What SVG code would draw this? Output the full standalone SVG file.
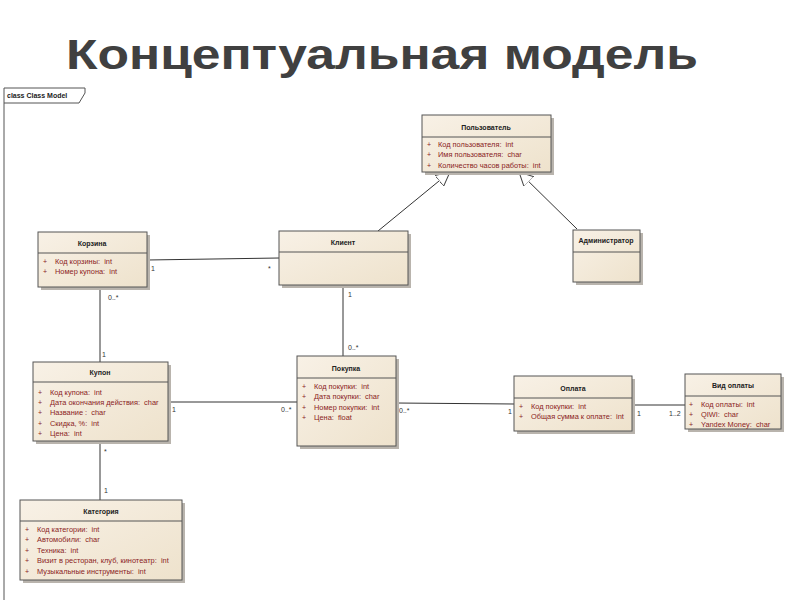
<svg xmlns="http://www.w3.org/2000/svg" width="800" height="600" viewBox="0 0 800 600">
<defs>
<linearGradient id="g" x1="0" y1="0" x2="1" y2="1">
<stop offset="0" stop-color="#f8f1e6"/>
<stop offset="1" stop-color="#eee2cc"/>
</linearGradient>
<marker id="tri" viewBox="0 0 14 14" refX="14" refY="7" markerWidth="14" markerHeight="14" markerUnits="userSpaceOnUse" orient="auto">
<path d="M0,0 L14,7 L0,14 Z" fill="#fff" stroke="#444" stroke-width="1"/>
</marker>
<style>
.box{fill:url(#g);stroke:#555;stroke-width:1}
.sh{fill:#b9b4ad}
.sep{stroke:#555;stroke-width:1}
.t{font-family:"Liberation Sans",Arial,sans-serif;font-size:7px;font-weight:bold;fill:#222;text-anchor:middle}
.a{font-family:"Liberation Sans",Arial,sans-serif;font-size:7.4px;fill:#8a2323;white-space:pre}
.p{font-family:"Liberation Sans",Arial,sans-serif;font-size:7px;fill:#8a2323}
.c{stroke:#333;stroke-width:1;fill:none}
.m{font-family:"Liberation Sans",Arial,sans-serif;font-size:7px;fill:#333}
</style>
</defs>
<rect width="800" height="600" fill="#fff"/>
<text x="382" y="69" font-family="Liberation Sans,Arial,sans-serif" font-size="43" font-weight="bold" fill="#404040" text-anchor="middle" textLength="632" lengthAdjust="spacingAndGlyphs">Концептуальная модель</text>

<g id="frame">
<path d="M4,88 L4,600" stroke="#555" stroke-width="1" fill="none"/>
<path d="M4,88 L85,88 L85,93 L79,103 L4,103" stroke="#555" stroke-width="1" fill="none"/>
<text x="7" y="98" font-family="Liberation Sans,Arial,sans-serif" font-size="7" font-weight="bold" fill="#222">class Class Model</text>
</g>

<g id="connectors">
<line class="c" x1="378" y1="231" x2="450" y2="172" marker-end="url(#tri)"/>
<line class="c" x1="577" y1="229" x2="519" y2="172" marker-end="url(#tri)"/>
<line class="c" x1="147" y1="260" x2="279" y2="258"/>
<line class="c" x1="100" y1="287" x2="100" y2="362"/>
<line class="c" x1="343" y1="285" x2="343" y2="356"/>
<line class="c" x1="168" y1="402" x2="297" y2="402"/>
<line class="c" x1="396" y1="403" x2="514" y2="404"/>
<line class="c" x1="632" y1="405" x2="685" y2="405"/>
<line class="c" x1="100" y1="441" x2="100" y2="500"/>
<text class="m" x="151" y="271">1</text>
<text class="m" x="268" y="271">*</text>
<text class="m" x="108" y="300">0..*</text>
<text class="m" x="102" y="357">1</text>
<text class="m" x="348" y="297">1</text>
<text class="m" x="348" y="350">0..*</text>
<text class="m" x="172" y="412">1</text>
<text class="m" x="281" y="412">0..*</text>
<text class="m" x="399" y="413">0..*</text>
<text class="m" x="508" y="414">1</text>
<text class="m" x="637" y="416">1</text>
<text class="m" x="669" y="416">1..2</text>
<text class="m" x="104" y="454">*</text>
<text class="m" x="104" y="493">1</text>
</g>

<g id="polzovatel">
<rect class="sh" x="425" y="118" width="129" height="57"/>
<rect class="box" x="422" y="115" width="129" height="57"/>
<line class="sep" x1="422" y1="137" x2="551" y2="137"/>
<text class="t" x="486" y="130">Пользователь</text>
<text class="p" x="427" y="147">+</text><text class="a" x="438" y="147">Код пользователя:  int</text>
<text class="p" x="427" y="157">+</text><text class="a" x="438" y="157">Имя пользователя:  char</text>
<text class="p" x="427" y="168">+</text><text class="a" x="438" y="168">Количество часов работы:  int</text>
</g>

<g id="korzina">
<rect class="sh" x="41" y="235" width="109" height="55"/>
<rect class="box" x="38" y="232" width="109" height="55"/>
<line class="sep" x1="38" y1="253" x2="147" y2="253"/>
<text class="t" x="92" y="246">Корзина</text>
<text class="p" x="43" y="264">+</text><text class="a" x="55" y="264">Код корзины:  int</text>
<text class="p" x="43" y="274">+</text><text class="a" x="55" y="274">Номер купона:  int</text>
</g>

<g id="klient">
<rect class="sh" x="282" y="234" width="129" height="54"/>
<rect class="box" x="279" y="231" width="129" height="54"/>
<line class="sep" x1="279" y1="252" x2="408" y2="252"/>
<text class="t" x="343" y="245">Клиент</text>
</g>

<g id="admin">
<rect class="sh" x="576" y="233" width="67" height="52"/>
<rect class="box" x="573" y="230" width="67" height="52"/>
<line class="sep" x1="573" y1="252" x2="640" y2="252"/>
<text class="t" x="606" y="243">Администратор</text>
</g>

<g id="kupon">
<rect class="sh" x="36" y="365" width="135" height="79"/>
<rect class="box" x="33" y="362" width="135" height="79"/>
<line class="sep" x1="33" y1="382" x2="168" y2="382"/>
<text class="t" x="100" y="375">Купон</text>
<text class="p" x="38" y="395">+</text><text class="a" x="50" y="395">Код купона:  int</text>
<text class="p" x="38" y="405">+</text><text class="a" x="50" y="405">Дата окончания действия:  char</text>
<text class="p" x="38" y="415">+</text><text class="a" x="50" y="415">Название :  char</text>
<text class="p" x="38" y="426">+</text><text class="a" x="50" y="426">Скидка, %:  int</text>
<text class="p" x="38" y="436">+</text><text class="a" x="50" y="436">Цена:  int</text>
</g>

<g id="pokupka">
<rect class="sh" x="300" y="359" width="99" height="90"/>
<rect class="box" x="297" y="356" width="99" height="90"/>
<line class="sep" x1="297" y1="378" x2="396" y2="378"/>
<text class="t" x="346" y="371">Покупка</text>
<text class="p" x="302" y="389">+</text><text class="a" x="314" y="389">Код покупки:  int</text>
<text class="p" x="302" y="399">+</text><text class="a" x="314" y="399">Дата покупки:  char</text>
<text class="p" x="302" y="410">+</text><text class="a" x="314" y="410">Номер покупки:  int</text>
<text class="p" x="302" y="420">+</text><text class="a" x="314" y="420">Цена:  float</text>
</g>

<g id="oplata">
<rect class="sh" x="517" y="379" width="118" height="55"/>
<rect class="box" x="514" y="376" width="118" height="55"/>
<line class="sep" x1="514" y1="398" x2="632" y2="398"/>
<text class="t" x="573" y="391">Оплата</text>
<text class="p" x="519" y="409">+</text><text class="a" x="531" y="409">Код покупки:  int</text>
<text class="p" x="519" y="419">+</text><text class="a" x="531" y="419">Общая сумма к оплате:  int</text>
</g>

<g id="vid_oplaty">
<rect class="sh" x="688" y="377" width="96" height="55"/>
<rect class="box" x="685" y="374" width="96" height="55"/>
<line class="sep" x1="685" y1="396" x2="781" y2="396"/>
<text class="t" x="733" y="388">Вид оплаты</text>
<text class="p" x="689" y="407">+</text><text class="a" x="701" y="407">Код оплаты:  int</text>
<text class="p" x="689" y="417">+</text><text class="a" x="701" y="417">QIWI:  char</text>
<text class="p" x="689" y="427">+</text><text class="a" x="701" y="427">Yandex Money:  char</text>
</g>

<g id="kategoriya">
<rect class="sh" x="23" y="503" width="162" height="80"/>
<rect class="box" x="20" y="500" width="162" height="80"/>
<line class="sep" x1="20" y1="521" x2="182" y2="521"/>
<text class="t" x="101" y="514">Категория</text>
<text class="p" x="25" y="532">+</text><text class="a" x="37" y="532">Код категории:  int</text>
<text class="p" x="25" y="542">+</text><text class="a" x="37" y="542">Автомобили:  char</text>
<text class="p" x="25" y="553">+</text><text class="a" x="37" y="553">Техника:  int</text>
<text class="p" x="25" y="563">+</text><text class="a" x="37" y="563">Визит в ресторан, клуб, кинотеатр:  int</text>
<text class="p" x="25" y="574">+</text><text class="a" x="37" y="574">Музыкальные инструменты:  int</text>
</g>
</svg>
